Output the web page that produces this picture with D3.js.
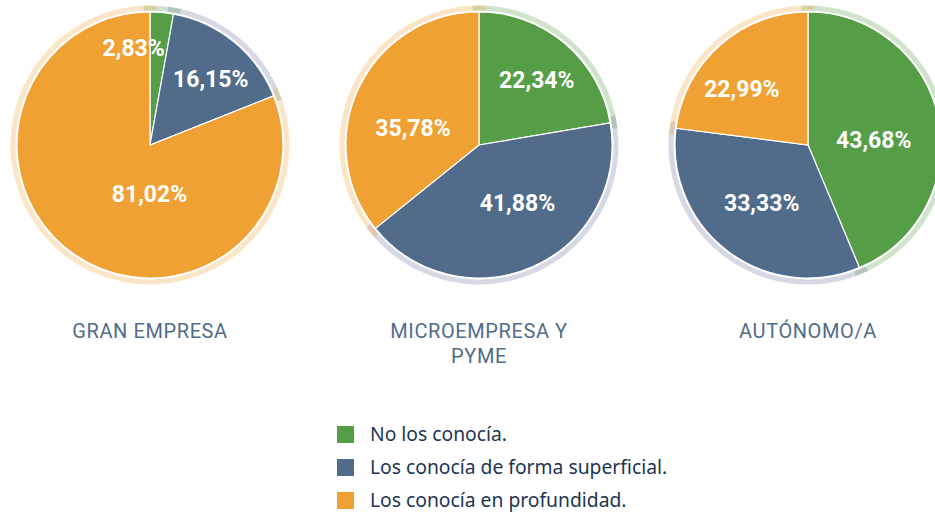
<!DOCTYPE html>
<html>
<head>
<meta charset="utf-8">
<script src="https://cdn.jsdelivr.net/npm/d3@7"></script>
<style>
  html, body { margin: 0; padding: 0; background: #fff; }
  svg { display: block; }
</style>
</head>
<body>
<svg id="chart" width="935" height="515"></svg>
<script>
// ---- Data ----
const groups = ["GRAN EMPRESA", "MICROEMPRESA Y\nPYME", "AUTÓNOMO/A"];
const seriesNames = ["No los conocía.", "Los conocía de forma superficial.", "Los conocía en profundidad."];
const noConocia      = [2.83, 22.34, 43.68];
const superficial    = [16.15, 41.88, 33.33];
const profundidad    = [81.02, 35.78, 22.99];
// label nudges (px) relative to slice centroid, per group, per series
const labelNudge = [
  [[-24, -11], [6, 1], [48, -23]],
  [[2, 1], [3, -21], [12, 20]],
  [[-19, 12], [6, -11], [-9, 9]]
];

// ---- Styles ----
const colors = ["#559E47", "#506C8A", "#F0A133"];
const ringColors = ["#559E47", "#6E73A0", "#F0A133"];
const R = 133, ringIn = 134.5, ringOut = 139.5;
const cy = 145;

const svg = d3.select("#chart");

const x = d3.scalePoint().domain(d3.range(groups.length)).range([150, 808]);

const pie = d3.pie().sort(null).value(d => d.v);
const arc = d3.arc().innerRadius(0).outerRadius(R);
const labelArc = d3.arc().innerRadius(0).outerRadius(R * 1.3);
const ext = 0.047;
const ringArc = d3.arc().innerRadius(ringIn).outerRadius(ringOut)
  .startAngle(d => d.startAngle - ext).endAngle(d => d.endAngle + ext);

const fmt = v => v.toFixed(2).replace(".", ",") + "%";

groups.forEach((g, gi) => {
  const data = [noConocia[gi], superficial[gi], profundidad[gi]].map((v, i) => ({v, i}));
  const arcs = pie(data);
  const gg = svg.append("g").attr("transform", `translate(${x(gi)},${cy})`);

  gg.selectAll("path.ring").data(arcs).enter().append("path")
    .attr("class", "ring")
    .attr("d", ringArc)
    .attr("fill", d => ringColors[d.data.i])
    .attr("fill-opacity", 0.28);

  gg.selectAll("path.slice").data(arcs).enter().append("path")
    .attr("class", "slice")
    .attr("d", arc)
    .attr("fill", d => colors[d.data.i])
    .attr("stroke", "#fff")
    .attr("stroke-width", 1.2);

  gg.selectAll("text.val").data(arcs).enter().append("text")
    .attr("class", "val")
    .attr("transform", d => {
      const c = labelArc.centroid(d);
      const n = labelNudge[gi][d.data.i];
      return `translate(${c[0] + n[0]},${c[1] + n[1]})`;
    })
    .attr("text-anchor", "middle")
    .attr("dy", "0.36em")
    .attr("fill", "#fff")
    .style("font-family", "Roboto, 'Noto Sans', sans-serif")
    .style("font-weight", 700)
    .style("font-size", "23px")
    .text(d => fmt(d.data.v));

  const lines = g.split("\n");
  const t = svg.append("text")
    .attr("x", x(gi))
    .attr("y", 338)
    .attr("text-anchor", "middle")
    .attr("fill", "#506C8A")
    .style("font-family", "Roboto, 'Noto Sans', sans-serif")
    .style("font-size", "20px")
    .style("letter-spacing", "0.6px");
  lines.forEach((l, li) => {
    t.append("tspan").attr("x", x(gi)).attr("dy", li === 0 ? 0 : 25).text(l);
  });
});

// ---- Legend ----
const ly = d3.scalePoint().domain(d3.range(seriesNames.length)).range([441, 507]);
const leg = svg.append("g");
seriesNames.forEach((s, i) => {
  leg.append("rect")
    .attr("x", 337).attr("y", ly(i) - 15)
    .attr("width", 17).attr("height", 17)
    .attr("fill", colors[i]);
  leg.append("text")
    .attr("x", 370).attr("y", ly(i))
    .attr("fill", "#1C3552")
    .style("font-family", "'Noto Sans', sans-serif")
    .style("font-size", "19.3px")
    .text(s);
});
</script>
</body>
</html>
